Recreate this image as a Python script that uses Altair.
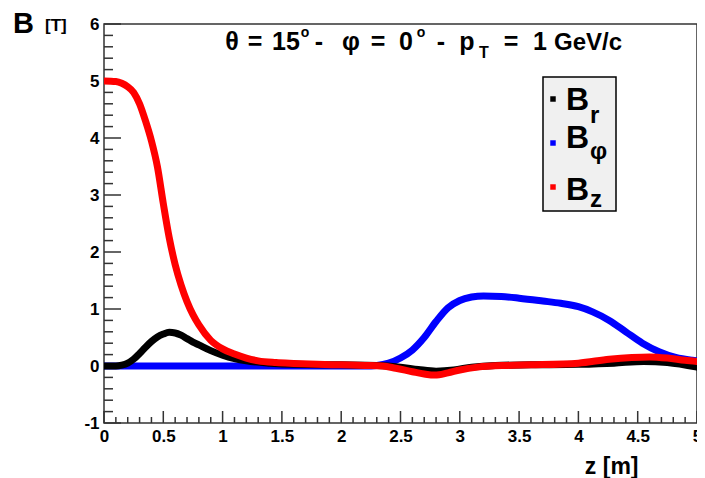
import altair as alt
import pandas as pd

# ---------------- data ----------------
Z_BR = [0.0, 0.1, 0.15, 0.2, 0.25, 0.3, 0.35, 0.4, 0.45, 0.5, 0.55, 0.6, 0.65, 0.7, 0.75, 0.8,
        0.9, 1.0, 1.1, 1.2, 1.4, 1.6, 2.0, 2.3, 2.5, 2.65, 2.8, 2.95, 3.1, 3.3, 3.6, 4.0, 4.3,
        4.55, 4.75, 5.0]
BR = [0.0, 0.0, 0.015, 0.05, 0.12, 0.22, 0.33, 0.43, 0.51, 0.56, 0.59, 0.58, 0.54, 0.48, 0.42, 0.37,
      0.27, 0.19, 0.13, 0.09, 0.05, 0.03, 0.02, 0.01, -0.02, -0.06, -0.09, -0.07, -0.02, 0.01, 0.02,
      0.03, 0.05, 0.08, 0.06, -0.02]

Z_BPHI = [0.0, 2.2, 2.3, 2.4, 2.5, 2.6, 2.7, 2.8, 2.9, 3.0, 3.1, 3.2, 3.35, 3.5, 3.7, 3.85, 4.0,
          4.12, 4.26, 4.4, 4.54, 4.68, 4.82, 4.96, 5.0]
BPHI = [0.0, 0.0, 0.01, 0.05, 0.14, 0.28, 0.5, 0.78, 1.02, 1.15, 1.21, 1.23, 1.22, 1.19, 1.14, 1.1,
        1.04, 0.95, 0.8, 0.6, 0.4, 0.25, 0.15, 0.1, 0.09]

Z_BZ = [0.0, 0.1, 0.15, 0.2, 0.25, 0.3, 0.35, 0.4, 0.45, 0.5, 0.55, 0.6, 0.65, 0.7, 0.75, 0.8, 0.9,
        1.0, 1.1, 1.2, 1.3, 1.45, 1.6, 1.8, 2.0, 2.2, 2.35, 2.46, 2.6, 2.7, 2.79, 2.9, 3.0, 3.15,
        3.4, 3.6, 4.0, 4.26, 4.45, 4.6, 4.75, 4.9, 5.0]
BZ = [5.0, 4.99, 4.96, 4.9, 4.8, 4.6, 4.3, 3.95, 3.5, 2.85, 2.25, 1.78, 1.42, 1.13, 0.9, 0.72, 0.45,
      0.3, 0.21, 0.14, 0.09, 0.06, 0.045, 0.03, 0.02, 0.01, 0.0, -0.04, -0.1, -0.14, -0.16, -0.12,
      -0.07, -0.02, 0.01, 0.02, 0.05, 0.12, 0.15, 0.16, 0.14, 0.1, 0.08]

X_LABELS = [0, 0.5, 1, 1.5, 2, 2.5, 3, 3.5, 4, 4.5, 5]
Y_LABELS = [-1, 0, 1, 2, 3, 4, 5, 6]
X_MINOR = [round(i * 0.1, 2) for i in range(51) if i % 5 != 0]
Y_MINOR = [round(-1 + i * 0.2, 2) for i in range(36) if i % 5 != 0]

# title glyphs: (text, centre x in page px, baseline y in page px, font size)
TITLE_PARTS = [("θ", 232, 50, 25), ("=", 255, 50, 25), ("15", 286, 50, 25), ("o", 305, 37, 14),
               ("-", 319, 50, 25), ("φ", 351, 50, 25), ("=", 378, 50, 25), ("0", 406, 50, 25),
               ("o", 421, 37, 14), ("-", 441, 50, 25), ("p", 467, 50, 25), ("T", 484, 58, 16),
               ("=", 511, 50, 25), ("1", 540, 50, 25), ("GeV/c", 588, 50, 24)]

W, H = 593, 399
LEFT, TOP = 96, 16
OX, OY = 8 + LEFT, 8 + TOP          # page position of the plot origin
FONT = "Liberation Sans"
FRAME = "#333333"

xs = alt.Scale(domain=[0, 5], nice=False, zero=False)
ys = alt.Scale(domain=[-1, 6], nice=False, zero=False)

x_axis = alt.Axis(values=X_LABELS, labelExpr="datum.value + ''", ticks=False, domain=False,
                  grid=False, labelFont=FONT, labelFontWeight="bold", labelFontSize=17,
                  labelColor="black", labelPadding=5, labelFlush=False, labelOverlap=False,
                  title="z [m]", titleFont=FONT, titleFontWeight="bold", titleFontSize=23,
                  titleColor="black", titleX=638 - OX, titleY=473 - OY - H, titleAlign="right",
                  titleBaseline="alphabetic")
y_axis = alt.Axis(values=Y_LABELS, labelExpr="datum.value + ''", ticks=False, domain=False,
                  grid=False, labelFont=FONT, labelFontWeight="bold", labelFontSize=17,
                  labelColor="black", labelPadding=5, labelFlush=False, labelOverlap=False,
                  title="")

X_ENC = alt.X("v:Q", scale=xs, axis=x_axis, title="z [m]")
Y_ENC = alt.Y("v:Q", scale=ys, axis=y_axis, title="")

# ---------------- ticks (ROOT style, drawn inside the frame) ----------------
x_major = alt.Chart(pd.DataFrame({"v": X_LABELS})).mark_rule(color=FRAME, strokeWidth=1.5).encode(
    x=X_ENC, y=alt.value(H), y2=alt.value(H - 12))
x_minor = alt.Chart(pd.DataFrame({"v": X_MINOR})).mark_rule(color=FRAME, strokeWidth=1.5).encode(
    x=X_ENC, y=alt.value(H), y2=alt.value(H - 6))
y_major = alt.Chart(pd.DataFrame({"v": Y_LABELS})).mark_rule(color=FRAME, strokeWidth=1.5).encode(
    y=Y_ENC, x=alt.value(0), x2=alt.value(17))
y_minor = alt.Chart(pd.DataFrame({"v": Y_MINOR})).mark_rule(color=FRAME, strokeWidth=1.5).encode(
    y=Y_ENC, x=alt.value(0), x2=alt.value(9))


def curve(z, b, color):
    df = pd.DataFrame({"v": z, "w": b})
    return alt.Chart(df).mark_line(color=color, strokeWidth=7, interpolate="monotone",
                                   strokeCap="round", strokeJoin="round", clip=True).encode(
        x=X_ENC, y=alt.Y("w:Q", scale=ys, axis=y_axis, title=""))


blue = curve(Z_BPHI, BPHI, "#0000ff")
black = curve(Z_BR, BR, "#000000")
red = curve(Z_BZ, BZ, "#ff0000")

ONE = alt.Data(values=[{"a": 1}])


def label(txt, x, y, size, align="left"):
    """x, y in page pixels"""
    return alt.Chart(ONE).mark_text(text=txt, font=FONT, fontWeight="bold", fontSize=size,
                                    align=align, baseline="alphabetic", color="black").encode(
        x=alt.value(x - OX), y=alt.value(y - OY))


title = [label(t, x, y, s, align="center") for t, x, y, s in TITLE_PARTS]

# y axis unit label
yunit = [label("B", 13, 33, 29), label("[T]", 45, 31, 17)]

# legend box
legend_box = alt.Chart(ONE).mark_rect(fill="#f0f0f0", stroke="black", strokeWidth=1.5).encode(
    x=alt.value(543 - OX), x2=alt.value(616 - OX), y=alt.value(77 - OY), y2=alt.value(211 - OY))
legend = [legend_box]
for col, yc, sub, ysub, yb in [("#000000", 99, "r", 123, 110),
                               ("#0000ff", 143, "φ", 159, 148),
                               ("#ff0000", 187, "z", 207, 200)]:
    legend.append(alt.Chart(ONE).mark_square(color=col, size=30, opacity=1).encode(
        x=alt.value(553 - OX), y=alt.value(yc - OY)))
    legend.append(label("B", 566, yb, 32))
    legend.append(label(sub, 590, ysub, 24))

chart = alt.layer(
    x_minor, x_major, y_minor, y_major, blue, black, red, *legend, *title, *yunit
).properties(
    width=W, height=H,
    padding={"left": LEFT, "top": TOP, "right": 0, "bottom": 55},
    autosize=alt.AutoSizeParams(type="none"),
    background="white",
).configure_view(stroke=FRAME, strokeWidth=1.5)

chart.save("out.html", embed_options={"renderer": "svg", "actions": False})
